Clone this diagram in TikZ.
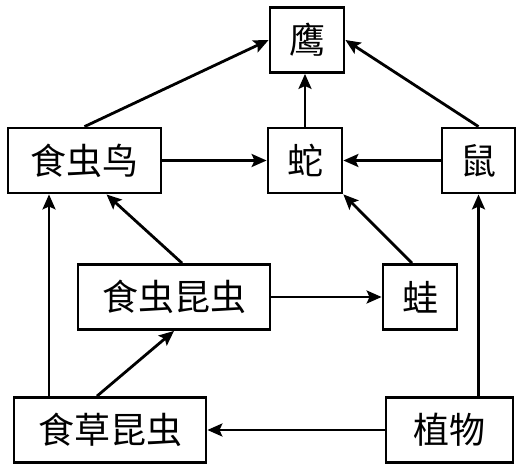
\documentclass[tikz,border=0pt]{standalone}
\usepackage{fontspec}
\usepackage{tikz}
\usetikzlibrary{
    arrows.meta,
    positioning,
    calc
}
\newfontfamily\cjk{Noto Sans CJK SC}
\tikzset{
  box/.style  = {draw, line width=2.8pt, inner sep=0pt, minimum height=65pt,
                 font=\cjk\fontsize{36}{40}\selectfont},
  arr/.style  = {-{Stealth[length=15pt, width=13pt, inset=3pt]}, line width=2.8pt}
}

\begin{document}
\begin{tikzpicture}[x=1pt, y=-1pt]
\useasboundingbox (0,0) rectangle (529,474);
\node[box, minimum width=74pt] (eagle) at (307,40) {鹰};
\node[box, minimum width=153pt] (bird) at (84.5,160.5) {食虫鸟};
\node[box, minimum width=74pt] (snake) at (305,160.5) {蛇};
\node[box, minimum width=73pt] (mouse) at (478.5,160.5) {鼠};
\node[box, minimum width=192pt] (insect) at (174,297) {食虫昆虫};
\node[box, minimum width=74pt] (frog) at (420,297) {蛙};
\node[box, minimum width=192pt] (herb) at (110,430) {食草昆虫};
\node[box, minimum width=127pt] (plant) at (449.5,430) {植物};
% top row
\draw[arr] (bird.north) -- (eagle.west);
\draw[arr] (mouse.north) -- (eagle.east);
\draw[arr] (snake.north) -- (snake.north |- eagle.south);
\draw[arr] (bird) -- (snake);
\draw[arr] (mouse) -- (snake);
% middle
\draw[arr] ([xshift=-61pt]herb.north) -- ([xshift=-61pt]herb.north |- bird.south);
\draw[arr] ([xshift=8pt]insect.north) -- ([xshift=22pt]bird.south);
\draw[arr] ([xshift=-8pt]frog.north) -- (snake.south east);
\draw[arr] (mouse.south |- plant.north) -- (mouse.south);
\draw[arr] (insect) -- (frog);
% bottom
\draw[arr] ([xshift=-13pt]herb.north) -- (insect.south);
\draw[arr] (plant) -- (herb);
\end{tikzpicture}
\end{document}
